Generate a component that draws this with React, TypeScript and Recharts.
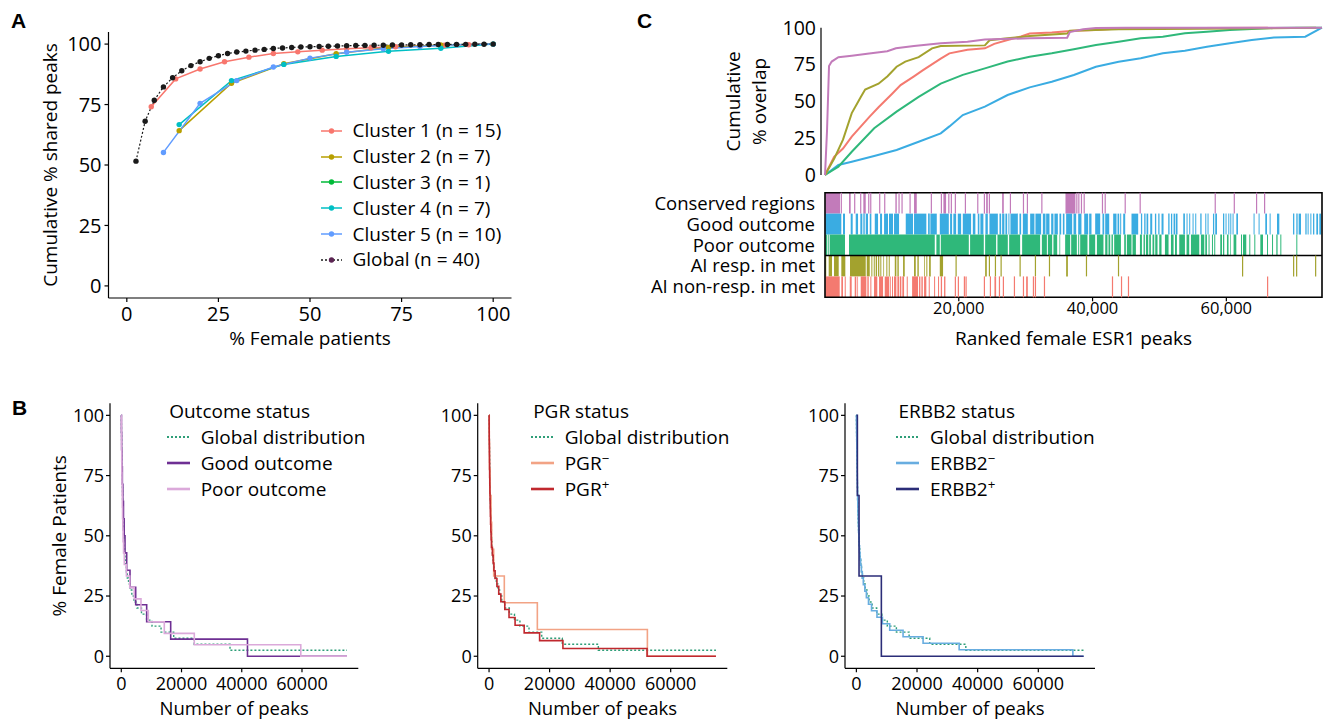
import React from "react";
import {
  LineChart,
  Line,
  XAxis,
  YAxis,
  Legend,
  ComposedChart,
  Scatter,
  ReferenceArea,
  ReferenceLine,
} from "recharts";

const FONT = "'Open Sans', 'DejaVu Sans', sans-serif";

// ---------- Panel A: cumulative % shared peaks ----------
const femaleGlobal = [2.5, 5, 7.5, 10, 12.5, 15, 17.5, 20, 22.5, 25, 27.5, 30, 32.5, 35, 37.5, 40, 42.5, 45, 47.5, 50, 52.5, 55, 57.5, 60, 62.5, 65, 67.5, 70, 72.5, 75, 77.5, 80, 82.5, 85, 87.5, 90, 92.5, 95, 97.5, 100];
const sharedGlobal = [51.6, 68.1, 76.8, 82.3, 86.1, 89.0, 91.1, 92.7, 94.1, 95.2, 96.1, 96.7, 97.1, 97.5, 97.8, 98.2, 98.4, 98.6, 98.8, 98.9, 99.0, 99.1, 99.2, 99.3, 99.4, 99.45, 99.5, 99.55, 99.6, 99.65, 99.7, 99.75, 99.8, 99.82, 99.85, 99.88, 99.9, 99.93, 99.96, 100];
const femaleC1 = [6.67, 13.33, 20, 26.67, 33.33, 40, 46.67, 53.33, 60, 66.67, 73.33, 80, 86.67, 93.33, 100];
const sharedC1 = [74.1, 85.6, 89.7, 92.7, 94.6, 96.1, 96.8, 97.5, 98.1, 98.5, 98.9, 99.2, 99.5, 99.7, 100];
const femaleC7 = [14.29, 28.57, 42.86, 57.14, 71.43, 85.71, 100];
const sharedC2 = [64.2, 83.8, 91.9, 96.0, 98.6, 99.6, 100];
const femaleC3 = [100];
const sharedC3 = [100];
const sharedC4 = [66.7, 84.9, 91.6, 94.9, 97.0, 98.3, 100];
const femaleC5 = [10, 20, 30, 40, 50, 60, 70, 80, 90, 100];
const sharedC5 = [55.2, 75.5, 84.9, 90.5, 94.2, 96.6, 98.1, 99.0, 99.7, 100];

// ---------- Panel B: % female patients vs number of peaks (step curves) ----------
const globalSteps = [[0, 100], [20, 97.5], [40, 95], [60, 92.5], [90, 90], [120, 87.5], [150, 85], [180, 82.5], [210, 80], [240, 77.5], [270, 75], [300, 72.5], [340, 70], [380, 67.5], [420, 65], [460, 62.5], [510, 60], [560, 57.5], [620, 55], [700, 52.5], [780, 50], [870, 47.5], [980, 45], [1100, 42.5], [1250, 40], [1450, 37.5], [1700, 35], [2000, 32.5], [2400, 30], [2900, 27.5], [3500, 25], [4200, 22.5], [5200, 20], [6700, 17.5], [8400, 15], [10200, 12.5], [13200, 10], [17400, 7.5], [24200, 5], [36100, 2.5], [74950, 2.5]];
const goodSteps = [[0, 100], [50, 92.9], [120, 85.7], [220, 78.6], [350, 71.4], [520, 64.3], [720, 57.1], [950, 50], [1230, 42.9], [1790, 35.7], [2890, 28.6], [4780, 21.4], [8430, 14.3], [16400, 7.1], [41900, 0], [74950, 0]];
const poorSteps = [[0, 100], [30, 95.2], [60, 90.5], [100, 85.7], [140, 81], [180, 76.2], [230, 71.4], [290, 66.7], [350, 61.9], [420, 57.1], [500, 52.4], [600, 47.6], [750, 42.9], [1000, 38.1], [1700, 33.3], [2800, 28.6], [4310, 23.8], [6540, 19], [8970, 14.3], [14280, 9.5], [24240, 4.8], [59600, 0], [74950, 0]];
const pgrNegSteps = [[0, 100], [60, 88.9], [150, 77.8], [330, 66.7], [660, 55.6], [870, 44.4], [1530, 33.3], [5040, 22.2], [15950, 11.1], [52300, 0], [74950, 0]];
const pgrPosSteps = [[0, 100], [20, 96.8], [40, 93.5], [60, 90.3], [80, 87.1], [110, 83.9], [140, 80.6], [170, 77.4], [200, 74.2], [240, 71], [280, 67.7], [330, 64.5], [380, 61.3], [440, 58.1], [510, 54.8], [590, 51.6], [680, 48.4], [800, 45.2], [1100, 41.9], [1350, 38.7], [1600, 35.5], [2000, 32.3], [2600, 29], [3200, 25.8], [3900, 22.6], [5200, 19.4], [6600, 16.1], [8600, 12.9], [11600, 9.7], [16700, 6.5], [24400, 3.2], [52200, 0], [74950, 0]];
const erbbNegSteps = [[0, 100], [30, 97.3], [60, 94.6], [90, 91.9], [120, 89.2], [150, 86.5], [180, 83.8], [210, 81.1], [240, 78.4], [270, 75.7], [300, 73], [340, 70.3], [380, 67.6], [420, 64.9], [470, 62.2], [520, 59.5], [580, 56.8], [650, 54.1], [730, 51.4], [820, 48.6], [920, 45.9], [1050, 43.2], [1200, 40.5], [1400, 37.8], [1650, 35.1], [1950, 32.4], [2300, 29.7], [2800, 27], [3300, 24.3], [4000, 21.6], [5000, 18.9], [6800, 16.2], [8600, 13.5], [11000, 10.8], [15400, 8.1], [22000, 5.4], [33900, 2.7], [71400, 0], [74950, 0]];
const erbbPosSteps = [[0, 100], [330, 66.7], [880, 33.3], [8240, 0], [74950, 0]];

// ---------- Panel C: cumulative % overlap vs ranked peaks (thousands) ----------
const conservedCurve = [[0, 0], [0.3, 30], [0.6, 74], [1.0, 77], [2.0, 80], [4.0, 81], [6.6, 82.5], [9.3, 84], [10.6, 86], [13.3, 87.5], [17.3, 89.5], [21.3, 90.5], [23.9, 92], [30.6, 92.8], [36.2, 93.2], [36.6, 97], [38.6, 99], [40.5, 99.8], [45, 100], [74.3, 100]];
const aiRespCurve = [[0, 0], [1.36, 11], [2.69, 24], [4.0, 42], [5.35, 53], [6.0, 58], [8.0, 62], [9.35, 67], [10.7, 73.5], [12.0, 77], [14.0, 80], [16.0, 86], [17.3, 87.5], [23.9, 88], [24.6, 91.5], [27.3, 92.8], [30.6, 94.3], [36.2, 96], [36.6, 98], [43.9, 99], [62.4, 99.5], [73.4, 100]];
const aiNonRespCurve = [[0, 0], [1.36, 12.4], [2.69, 18], [4.0, 26], [6.67, 39.6], [8.0, 46], [10.0, 55], [11.3, 61], [13.3, 67], [14.6, 71], [17.3, 79], [18.6, 82.6], [21.3, 85], [23.9, 86], [25.3, 89], [27.3, 91.6], [29.3, 94], [30.6, 96], [33.9, 96.8], [37.2, 98], [40.5, 98.4], [43.9, 99.5], [45.9, 99.7], [66.2, 100]];
const poorCurve = [[0, 0], [2.0, 5.7], [4.0, 15.8], [7.35, 31.7], [10.7, 43], [14.0, 53], [17.3, 62], [20.6, 68], [23.9, 72.4], [27.3, 77], [30.6, 80.3], [33.9, 82.6], [37.2, 85.3], [40.5, 88.2], [43.9, 90.5], [47.2, 92.8], [50.5, 93.9], [53.8, 96.2], [57.1, 97.3], [60.5, 98.4], [63.8, 99.1], [67.1, 99.8], [70.4, 100], [74.3, 100]];
const goodCurve = [[0, 0], [2.0, 6.8], [4.0, 9], [7.35, 12.9], [10.7, 17], [14.0, 22.6], [17.3, 28.3], [18.6, 33], [20.6, 40.7], [23.9, 46.4], [27.3, 54.3], [30.6, 59.5], [33.9, 63.3], [37.2, 67.9], [40.5, 73.5], [43.9, 76.9], [47.2, 79.2], [50.5, 82.6], [53.8, 84.4], [57.1, 87.1], [60.5, 89.4], [63.8, 91.6], [67.1, 93.4], [71.8, 93.9], [74.3, 100]];

// track rugs: [start, end] blocks and single ticks, in thousands of peaks
const conservedBlocks = [[0.04, 2.24], [3.59, 3.84], [5.73, 6.09], [10.52, 10.73], [13.31, 13.72], [17.7, 18.1], [24.09, 24.34], [26.48, 26.73], [35.95, 37.44]];
const conservedTicks = [2.44, 4.44, 5.34, 6.54, 6.84, 8.18, 8.93, 11.07, 11.52, 12.72, 15.9, 17.4, 18.51, 18.89, 19.49, 20.99, 22.84, 23.83, 24.58, 27.72, 29.67, 30.26, 32.42, 37.65, 37.95, 38.34, 38.75, 41.48, 41.89, 44.88, 47.12, 58.34, 61.19, 64.52, 65.72];
const goodBlocks = [[0.04, 2.44], [2.69, 2.99], [3.84, 4.14], [4.59, 4.94], [5.28, 5.58], [5.73, 5.94], [6.09, 6.43], [6.69, 6.93], [7.44, 7.93], [8.23, 8.53], [8.83, 9.42], [9.57, 10.17], [10.32, 11.07], [12.07, 13.16], [13.31, 15.15], [15.41, 15.66], [15.75, 16.71], [17.16, 18.51], [18.7, 19.0], [19.19, 19.6], [19.85, 20.35], [20.6, 21.84], [22.1, 22.48], [22.84, 23.08], [23.23, 23.68], [23.98, 24.34], [24.58, 25.84], [26.08, 26.33], [26.48, 26.82], [26.97, 27.23], [27.42, 27.57], [27.72, 28.83], [29.07, 29.32], [29.58, 30.32], [30.67, 31.31], [31.46, 32.31], [32.57, 32.96], [33.06, 33.56], [33.81, 34.15], [34.3, 34.81], [35.05, 35.31], [35.56, 35.8], [36.05, 36.95], [37.15, 37.55], [37.85, 38.34], [38.75, 39.34], [39.49, 39.84], [40.39, 41.14], [41.48, 41.74], [41.89, 42.49], [43.08, 43.58], [43.73, 43.98], [44.13, 44.28], [44.58, 44.88], [45.82, 46.82], [47.23, 47.42], [47.72, 47.92], [48.07, 48.32], [48.62, 48.92], [49.32, 49.52], [49.82, 50.01], [50.31, 50.61], [51.31, 51.51], [51.72, 51.91], [52.11, 52.36], [52.46, 52.7], [53.56, 53.81], [54.05, 54.2], [54.45, 54.6], [54.95, 55.1], [55.35, 55.5], [56.1, 56.3], [56.85, 57.0], [57.19, 57.34], [58.0, 58.19], [58.34, 58.6], [59.5, 59.69], [59.88, 60.03], [60.29, 60.44], [60.59, 60.74], [60.93, 61.08], [61.49, 61.74], [64.07, 64.22], [64.82, 64.97], [65.82, 66.08], [66.47, 66.62], [67.57, 67.92], [69.97, 70.16], [70.46, 70.66], [70.81, 71.16], [71.81, 72.0], [72.15, 72.3], [72.56, 72.71], [72.96, 73.15], [73.45, 73.71], [73.9, 74.16]];
const goodTicks: number[] = [];
const poorBlocks = [[0.04, 0.34], [0.49, 0.6], [0.7, 2.99], [3.59, 16.41], [16.65, 17.16], [17.31, 21.5], [21.69, 23.74], [23.94, 25.58], [25.78, 27.33], [27.53, 29.17], [29.47, 32.16], [32.42, 33.17], [33.32, 33.96], [34.15, 34.71], [35.05, 35.16], [35.9, 36.65], [36.8, 37.65], [37.85, 38.0], [38.15, 39.24], [39.49, 40.39], [40.65, 41.63], [41.89, 42.23], [42.38, 42.64], [42.83, 43.04], [43.23, 44.24], [44.73, 44.98], [45.13, 45.82], [45.97, 46.48], [47.08, 47.38], [47.62, 47.83], [47.98, 48.32], [48.47, 48.72], [48.96, 49.22], [49.37, 49.71], [49.97, 50.31], [50.82, 51.36], [51.72, 52.11], [52.32, 52.61], [52.96, 53.81], [54.05, 54.45], [54.71, 55.95], [56.2, 56.7], [56.85, 57.1], [57.34, 57.49], [57.85, 58.0], [58.19, 58.34], [59.09, 59.35], [59.5, 59.69], [60.09, 60.33], [60.59, 60.69], [61.08, 61.49], [62.19, 62.34], [62.49, 62.98], [63.43, 63.58], [64.18, 64.33], [65.08, 65.48], [66.08, 66.23], [66.83, 66.98], [67.47, 67.66], [68.07, 68.22], [70.46, 70.61]];
const poorTicks: number[] = [];
const aiRespBlocks = [[0.04, 0.19], [0.55, 1.05], [1.35, 2.05], [2.44, 3.04], [3.74, 6.09], [6.24, 6.69], [6.93, 7.08], [7.29, 7.44], [7.58, 7.78], [7.93, 8.12], [8.27, 8.42], [8.72, 8.83], [9.17, 9.32], [9.53, 9.68], [10.43, 10.67], [10.82, 11.03], [11.67, 11.92], [13.31, 13.57], [13.81, 14.02], [14.81, 14.92], [15.15, 15.3], [15.56, 15.81], [17.16, 17.65], [23.94, 24.19], [36.05, 36.31]];
const aiRespTicks = [19.6, 24.58, 25.48, 26.33, 29.17, 31.46, 33.56, 39.09, 43.88, 62.43, 70.06, 70.51, 73.35];
const aiNonRespBlocks = [[0.04, 2.2], [2.44, 2.69], [2.95, 3.1], [3.7, 3.99], [4.44, 4.68], [4.83, 4.94], [5.34, 6.18], [6.33, 6.54], [6.78, 6.93], [7.33, 7.82], [8.08, 8.68], [8.93, 9.57], [9.68, 9.83], [10.02, 10.17], [10.32, 10.67], [10.82, 11.07], [11.18, 11.41], [11.56, 11.82], [12.22, 12.37], [13.02, 13.91], [14.06, 14.26], [14.41, 14.62], [14.81, 15.15], [15.51, 15.66], [16.31, 16.46], [16.9, 17.05], [17.31, 17.5], [17.8, 18.0], [25.33, 25.58], [30.07, 30.32]];
const aiNonRespTicks = [19.49, 19.94, 20.84, 21.09, 23.83, 24.73, 26.08, 26.67, 28.32, 29.67, 31.16, 31.46, 32.81, 42.98, 44.33, 45.37, 66.17];

const trackNames = ["Conserved regions", "Good outcome", "Poor outcome", "AI resp. in met", "AI non-resp. in met"];

const pts = (xs: number[], ys: number[]) => xs.map((x, i) => ({ x, y: ys[i] }));
const pairs = (arr: number[][]) => arr.map(([x, y]) => ({ x, y }));

const tickFont = (fs: number) => ({ fontSize: fs, fill: "#000", fontFamily: FONT });
const axisStroke = { stroke: "#000", strokeWidth: 1.2 };

// rotated y-axis title(s); xs are baseline x positions in chart coords
const rotLabel = (lines: string[], xs: number[], cy: number, fs: number) => () => (
  <g>
    {lines.map((t, i) => (
      <text
        key={t}
        x={xs[i]}
        y={cy}
        transform={`rotate(-90 ${xs[i]} ${cy})`}
        textAnchor="middle"
        fontSize={fs}
        fill="#000"
        fontFamily={FONT}
      >
        {t}
      </text>
    ))}
  </g>
);

const seriesA = [
  { name: "Cluster 1 (n = 15)", color: "#F8766D", dot: "#F8766D", dash: undefined, data: pts(femaleC1, sharedC1) },
  { name: "Cluster 2 (n = 7)", color: "#B79F00", dot: "#B79F00", dash: undefined, data: pts(femaleC7, sharedC2) },
  { name: "Cluster 3 (n = 1)", color: "#00BA38", dot: "#00BA38", dash: undefined, data: pts(femaleC3, sharedC3) },
  { name: "Cluster 4 (n = 7)", color: "#00BFC4", dot: "#00BFC4", dash: undefined, data: pts(femaleC7, sharedC4) },
  { name: "Cluster 5 (n = 10)", color: "#619CFF", dot: "#619CFF", dash: undefined, data: pts(femaleC5, sharedC5) },
  { name: "Global (n = 40)", color: "#1a1a1a", dot: "#5c2553", dash: "2 2", data: pts(femaleGlobal, sharedGlobal) },
];

const LegendA = () => (
  <div style={{ fontFamily: FONT, fontSize: 19, color: "#000", lineHeight: 1, whiteSpace: "nowrap" }}>
    {seriesA.map((s) => (
      <div key={s.name} style={{ height: 25.8, display: "flex", alignItems: "center" }}>
        <svg width={21} height={10} style={{ marginRight: 10.5, flex: "none" }}>
          <line x1={0} x2={21} y1={5} y2={5} stroke={s.color} strokeWidth={1.5} strokeDasharray={s.dash} />
          <circle cx={10.5} cy={5} r={2.7} fill={s.dot} />
        </svg>
        <span>{s.name}</span>
      </div>
    ))}
  </div>
);

function PanelA() {
  return (
    <LineChart width={530} height={360} margin={{ top: 32, right: 18.5, bottom: 0, left: 0 }}>
      <XAxis
        type="number"
        dataKey="x"
        domain={[-5, 105]}
        ticks={[0, 25, 50, 75, 100]}
        height={62}
        tickSize={4}
        tickMargin={5}
        tick={tickFont(20)}
        axisLine={axisStroke}
        tickLine={axisStroke}
        label={{ value: "% Female patients", position: "insideBottom", offset: 15, fontSize: 19, fill: "#000", fontFamily: FONT }}
      />
      <YAxis
        type="number"
        dataKey="y"
        domain={[-5, 105]}
        ticks={[0, 25, 50, 75, 100]}
        width={108.5}
        tickSize={4}
        tickMargin={3}
        tick={tickFont(20)}
        axisLine={axisStroke}
        tickLine={axisStroke}
        label={rotLabel(["Cumulative % shared peaks"], [57], 165, 19)}
      />
      {seriesA.map((s) => (
        <Line
          key={s.name}
          data={s.data}
          dataKey="y"
          type="linear"
          stroke={s.color}
          strokeWidth={s.dash ? 1.2 : 1.5}
          strokeDasharray={s.dash}
          dot={{ r: 2.7, fill: s.dash ? "#1a1a1a" : s.color, stroke: "none" }}
          activeDot={false}
          isAnimationActive={false}
        />
      ))}
      <Legend
        content={LegendA}
        layout="vertical"
        align="center"
        verticalAlign="middle"
        wrapperStyle={{ left: 321, top: 118, width: 200 }}
      />
    </LineChart>
  );
}

// ---------- Panel B ----------
type StepSeries = { label: React.ReactNode; key: string; color: string; dash?: string; width: number; data: number[][] };

const globalSeries: StepSeries = { label: "Global distribution", key: "g", color: "#2E9E78", dash: "2 2", width: 1.4, data: globalSteps };

const outcomeSeries: StepSeries[] = [
  globalSeries,
  { label: "Good outcome", key: "good", color: "#6E2F93", width: 1.6, data: goodSteps },
  { label: "Poor outcome", key: "poor", color: "#DBA9DA", width: 1.6, data: poorSteps },
];
const pgrSeries: StepSeries[] = [
  globalSeries,
  { label: <>PGR<sup style={{ fontSize: "0.7em", lineHeight: 0 }}>−</sup></>, key: "pgrn", color: "#F2A385", width: 1.6, data: pgrNegSteps },
  { label: <>PGR<sup style={{ fontSize: "0.7em", lineHeight: 0 }}>+</sup></>, key: "pgrp", color: "#C0282E", width: 1.6, data: pgrPosSteps },
];
const erbbSeries: StepSeries[] = [
  globalSeries,
  { label: <>ERBB2<sup style={{ fontSize: "0.7em", lineHeight: 0 }}>−</sup></>, key: "erbn", color: "#68ADE0", width: 1.6, data: erbbNegSteps },
  { label: <>ERBB2<sup style={{ fontSize: "0.7em", lineHeight: 0 }}>+</sup></>, key: "erbp", color: "#2B2D78", width: 1.6, data: erbbPosSteps },
];

const stepLegend = (title: string, items: StepSeries[]) => () => (
  <div style={{ fontFamily: FONT, fontSize: 19, color: "#000", lineHeight: 1, whiteSpace: "nowrap" }}>
    <div style={{ height: 26, display: "flex", alignItems: "center", paddingLeft: 2.5 }}>{title}</div>
    {items.map((s) => (
      <div key={s.key} style={{ height: 26, display: "flex", alignItems: "center" }}>
        <svg width={23} height={8} style={{ marginRight: 11, flex: "none" }}>
          <line x1={0} x2={23} y1={4} y2={4} stroke={s.color} strokeWidth={s.dash ? 2 : 2.6} strokeDasharray={s.dash} />
        </svg>
        <span>{s.label}</span>
      </div>
    ))}
  </div>
);

function StepPanel({
  width,
  plotLeft,
  plotRight,
  yTitle,
  title,
  series,
  legendLeft,
}: {
  width: number;
  plotLeft: number;
  plotRight: number;
  yTitle?: string;
  title: string;
  series: StepSeries[];
  legendLeft: number;
}) {
  return (
    <LineChart width={width} height={329} margin={{ top: 13.3, right: width - plotRight, bottom: 0, left: 0 }}>
      <XAxis
        type="number"
        dataKey="x"
        domain={[-3750, 78700]}
        ticks={[0, 20000, 40000, 60000]}
        height={50.7}
        tickSize={4}
        tickMargin={4.5}
        tick={tickFont(18)}
        axisLine={axisStroke}
        tickLine={axisStroke}
        label={{ value: "Number of peaks", position: "insideBottom", offset: 4.5, fontSize: 18.5, fill: "#000", fontFamily: FONT }}
      />
      <YAxis
        type="number"
        dataKey="y"
        domain={[-5, 105]}
        ticks={[0, 25, 50, 75, 100]}
        width={plotLeft}
        tickSize={4}
        tickMargin={2}
        tick={tickFont(18)}
        axisLine={axisStroke}
        tickLine={axisStroke}
        label={yTitle ? rotLabel([yTitle], [66], 145.8, 19) : undefined}
      />
      {series.map((s) => (
        <Line
          key={s.key}
          data={pairs(s.data)}
          dataKey="y"
          type="stepAfter"
          stroke={s.color}
          strokeWidth={s.width}
          strokeDasharray={s.dash}
          dot={false}
          activeDot={false}
          isAnimationActive={false}
        />
      ))}
      <Legend
        content={stepLegend(title, series)}
        layout="vertical"
        align="center"
        verticalAlign="middle"
        wrapperStyle={{ left: legendLeft, top: 8, width: 220 }}
      />
    </LineChart>
  );
}

// ---------- Panel C ----------
const curveSeries = [
  { key: "good", color: "#3AACE2", data: goodCurve },
  { key: "poor", color: "#2FB87A", data: poorCurve },
  { key: "nonresp", color: "#F47A70", data: aiNonRespCurve },
  { key: "resp", color: "#A3A22E", data: aiRespCurve },
  { key: "cons", color: "#C27BBA", data: conservedCurve },
];

const trackRows = [
  { color: "#C27BBA", blocks: conservedBlocks, ticks: conservedTicks },
  { color: "#3AACE2", blocks: goodBlocks, ticks: goodTicks },
  { color: "#2FB87A", blocks: poorBlocks, ticks: poorTicks },
  { color: "#A3A22E", blocks: aiRespBlocks, ticks: aiRespTicks },
  { color: "#F47A70", blocks: aiNonRespBlocks, ticks: aiNonRespTicks },
];

const ROW_PX = 104.6 / 5;
const tickShape = (color: string) => (p: any) => (
  <line x1={p.cx} x2={p.cx} y1={p.cy - ROW_PX / 2} y2={p.cy + ROW_PX / 2} stroke={color} strokeWidth={1.2} />
);

function PanelCCurves() {
  return (
    <LineChart width={696} height={190} margin={{ top: 27.7, right: 4, bottom: 15, left: 0 }}>
      <XAxis type="number" dataKey="x" domain={[-0.6, 74.3]} hide />
      <YAxis
        type="number"
        dataKey="y"
        domain={[0, 100]}
        ticks={[0, 25, 50, 75, 100]}
        width={191}
        tickSize={0}
        tickMargin={5}
        tick={tickFont(19.5)}
        axisLine={axisStroke}
        tickLine={false}
        label={rotLabel(["Cumulative", "% overlap"], [110, 136], 101.4, 19)}
      />
      {curveSeries.map((s) => (
        <Line
          key={s.key}
          data={pairs(s.data)}
          dataKey="y"
          type="linear"
          stroke={s.color}
          strokeWidth={2}
          dot={false}
          activeDot={false}
          isAnimationActive={false}
        />
      ))}
    </LineChart>
  );
}

function PanelCTracks() {
  return (
    <ComposedChart width={696} height={175} margin={{ top: 7.7, right: 4, bottom: 0, left: 0 }}>
      <XAxis
        type="number"
        dataKey="x"
        domain={[0, 74.3]}
        ticks={[20, 40, 60]}
        tickFormatter={(v: number) => `${v},000`}
        height={62.7}
        tickSize={4}
        tickMargin={1}
        tick={tickFont(16.5)}
        axisLine={false}
        tickLine={{ stroke: "#000", strokeWidth: 1.2 }}
        label={{ value: "Ranked female ESR1 peaks", position: "insideBottom", offset: 15, fontSize: 19, fill: "#000", fontFamily: FONT }}
      />
      <YAxis
        type="number"
        dataKey="y"
        domain={[0, 5]}
        ticks={[0.5, 1.5, 2.5, 3.5, 4.5]}
        interval={0}
        tickFormatter={(v: number) => trackNames[4 - Math.floor(v)]}
        width={195}
        tickSize={0}
        tickMargin={10}
        tick={tickFont(18.5)}
        axisLine={false}
        tickLine={false}
      />
      {trackRows.map((row, r) =>
        row.blocks.map(([a, b], i) => (
          <ReferenceArea
            key={`b${r}-${i}`}
            x1={a}
            x2={b}
            y1={4 - r}
            y2={5 - r}
            fill={row.color}
            fillOpacity={1}
            stroke="none"
          />
        ))
      )}
      {trackRows.map((row, r) => (
        <Scatter
          key={`t${r}`}
          data={row.ticks.map((x) => ({ x, y: 4.5 - r }))}
          shape={tickShape(row.color)}
          isAnimationActive={false}
        />
      ))}
      <ReferenceLine y={2} stroke="#000" strokeWidth={1.6} />
      <ReferenceArea x1={0} x2={74.3} y1={0} y2={5} fill="none" stroke="#000" strokeWidth={1.6} />
    </ComposedChart>
  );
}

const panelLetter = (ch: string, left: number, top: number) => (
  <div
    style={{
      position: "absolute",
      left,
      top,
      fontFamily: "'Liberation Sans', Arial, sans-serif",
      fontWeight: 700,
      fontSize: 21,
      lineHeight: 1,
      color: "#000",
    }}
  >
    {ch}
  </div>
);

export default function App() {
  return (
    <div
      style={{
        position: "absolute",
        left: 0,
        top: 0,
        width: 1326,
        height: 719,
        background: "#fff",
        overflow: "hidden",
        fontFamily: FONT,
      }}
    >
      {panelLetter("A", 11, 9.5)}
      {panelLetter("B", 12, 396.5)}
      {panelLetter("C", 637, 9.5)}
      <div style={{ position: "absolute", left: 0, top: 0 }}>
        <PanelA />
      </div>
      <div style={{ position: "absolute", left: 630, top: 0 }}>
        <PanelCCurves />
      </div>
      <div style={{ position: "absolute", left: 630, top: 185 }}>
        <PanelCTracks />
      </div>
      <div style={{ position: "absolute", left: 0, top: 390 }}>
        <StepPanel width={380} plotLeft={110} plotRight={358.3} yTitle="% Female Patients" title="Outcome status" series={outcomeSeries} legendLeft={166.7} />
      </div>
      <div style={{ position: "absolute", left: 400, top: 390 }}>
        <StepPanel width={350} plotLeft={77.7} plotRight={327.3} title="PGR status" series={pgrSeries} legendLeft={130.7} />
      </div>
      <div style={{ position: "absolute", left: 770, top: 390 }}>
        <StepPanel width={350} plotLeft={75} plotRight={325} title="ERBB2 status" series={erbbSeries} legendLeft={126} />
      </div>
    </div>
  );
}
